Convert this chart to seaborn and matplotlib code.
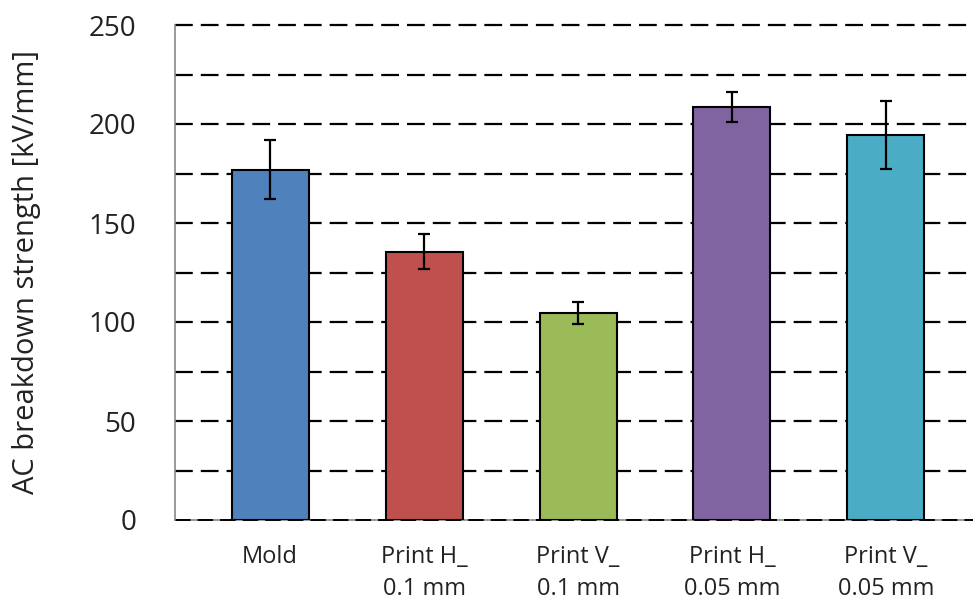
import matplotlib
matplotlib.use("Agg")
import matplotlib.pyplot as plt
import seaborn as sns
import pandas as pd
import numpy as np

# data
categorias = ["Mold", "Print H_\n0.1 mm", "Print V_\n0.1 mm", "Print H_\n0.05 mm", "Print V_\n0.05 mm"]
valores = [177, 135.5, 104.5, 208.5, 194.5]
errores = [15, 8.8, 5.5, 7.6, 17.3]
colores = ["#4F81BD", "#C0504D", "#9BBB59", "#8064A2", "#4BACC6"]
yticks = [0, 50, 100, 150, 200, 250]

df = pd.DataFrame({"cat": categorias, "val": valores, "err": errores})

sns.set_theme(style="white")
plt.rcParams["font.family"] = ["Open Sans", "DejaVu Sans"]

fig = plt.figure(figsize=(9.73, 6.01), dpi=100)
ax = fig.add_axes([175 / 973, 81 / 601, (973 - 175) / 973, 495 / 601])

sns.barplot(data=df, x="cat", y="val", hue="cat", palette=colores, legend=False, saturation=1,
            errorbar=None, width=0.5, edgecolor="black", linewidth=1.5, ax=ax, zorder=3)
ax.errorbar(np.arange(len(df)), df["val"], yerr=df["err"], fmt="none",
            ecolor="black", elinewidth=1.6, capsize=4, capthick=1.6, zorder=4)

# dashed grid every 25 (top one not clipped so it keeps full width)
for yv in np.arange(25, 251, 25):
    ax.axhline(yv, color="black", lw=1.6, dashes=(8, 3.6), zorder=1, clip_on=False)
ax.axhline(0, color="#888888", lw=1.2, zorder=1, clip_on=False)
ax.axhline(0, color="black", lw=1.4, dashes=(8, 3.6), zorder=2, clip_on=False)

ax.set_ylim(0, 250)
ax.set_xlim(-0.617, 4.565)
ax.set_yticks(yticks)
ax.set_yticklabels([str(t) for t in yticks], fontsize=20, color="#222222")
ax.tick_params(axis="y", length=0, pad=28)
ax.tick_params(axis="x", length=0, pad=18, labelsize=17, labelcolor="#222222")
for lab in ax.get_xticklabels():
    lab.set_linespacing(1.45)
ax.set_xlabel("")
ax.set_ylabel("AC breakdown strength [kV/mm]", fontsize=21, color="#222222")
ax.yaxis.set_label_coords(-0.168, 0.5)

for s in ["top", "right", "bottom"]:
    ax.spines[s].set_visible(False)
ax.spines["left"].set_color("#888888")
ax.spines["left"].set_linewidth(1.2)

fig.savefig("out.png", dpi=100)
